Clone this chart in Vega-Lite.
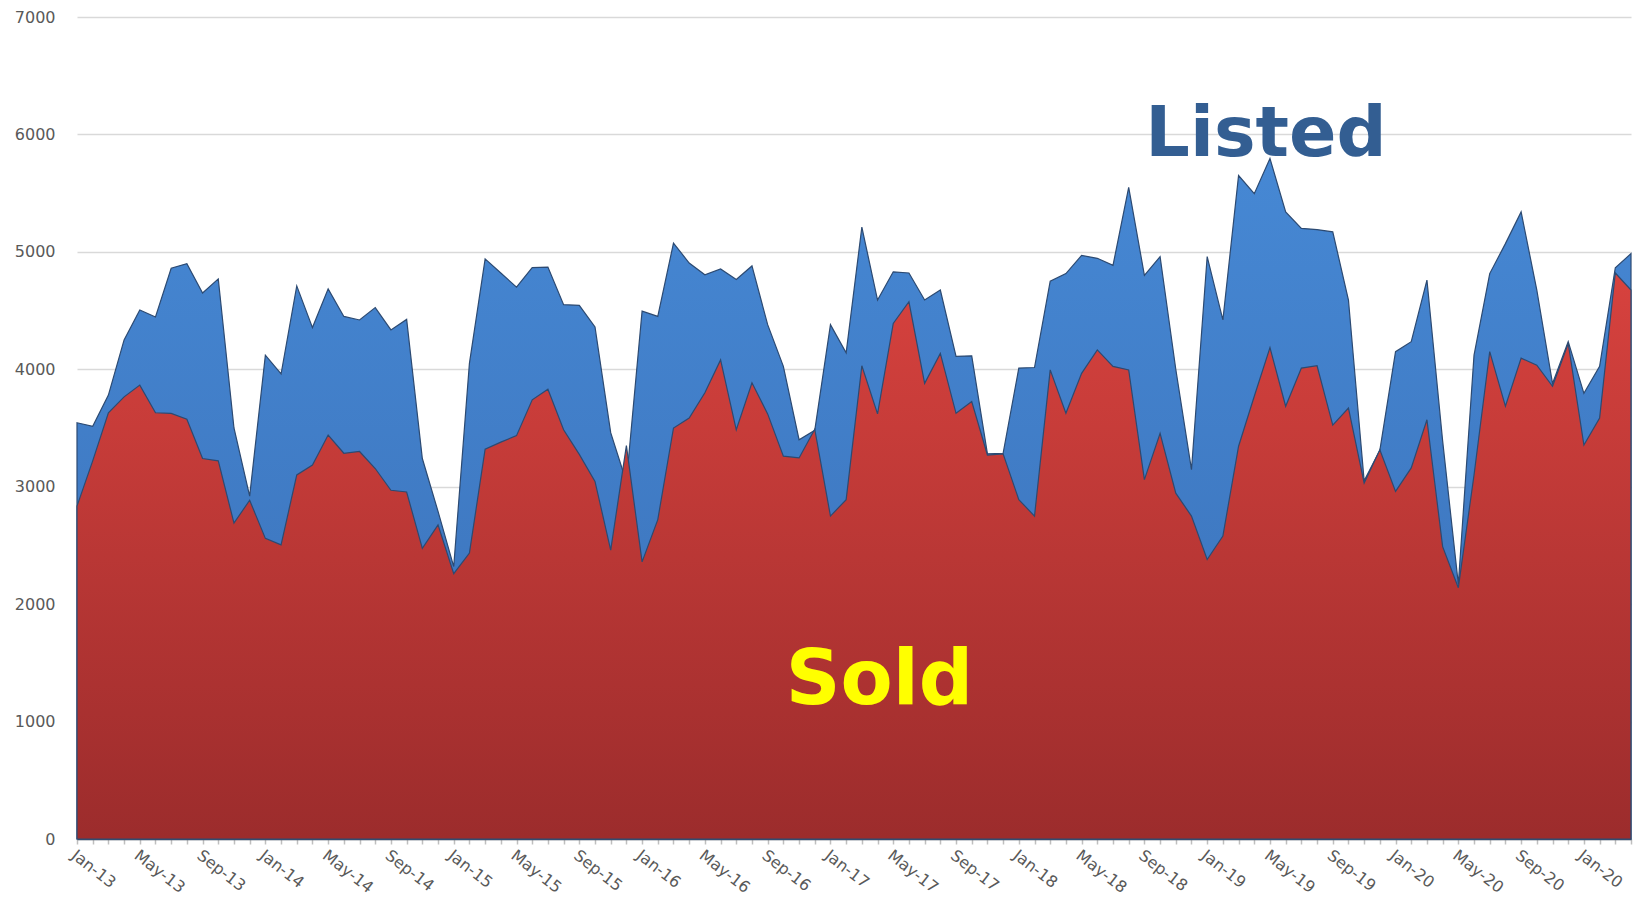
{
  "$schema": "https://vega.github.io/schema/vega-lite/v6.json",
  "width": 1554,
  "height": 822,
  "autosize": "none",
  "padding": {"left": 77, "top": 17, "right": 17, "bottom": 61},
  "background": "white",
  "config": {"view": {"stroke": null}, "font": "DejaVu Sans"},
  "data": {"values": [
    {"date": "2013-01", "Listed": 3545, "Sold": 2835},
    {"date": "2013-02", "Listed": 3515, "Sold": 3220},
    {"date": "2013-03", "Listed": 3780, "Sold": 3630},
    {"date": "2013-04", "Listed": 4250, "Sold": 3765},
    {"date": "2013-05", "Listed": 4505, "Sold": 3865},
    {"date": "2013-06", "Listed": 4445, "Sold": 3630},
    {"date": "2013-07", "Listed": 4860, "Sold": 3625},
    {"date": "2013-08", "Listed": 4900, "Sold": 3575},
    {"date": "2013-09", "Listed": 4650, "Sold": 3240},
    {"date": "2013-10", "Listed": 4770, "Sold": 3220},
    {"date": "2013-11", "Listed": 3500, "Sold": 2690},
    {"date": "2013-12", "Listed": 2920, "Sold": 2885},
    {"date": "2014-01", "Listed": 4120, "Sold": 2560},
    {"date": "2014-02", "Listed": 3960, "Sold": 2505},
    {"date": "2014-03", "Listed": 4710, "Sold": 3100},
    {"date": "2014-04", "Listed": 4355, "Sold": 3185},
    {"date": "2014-05", "Listed": 4685, "Sold": 3440},
    {"date": "2014-06", "Listed": 4450, "Sold": 3285},
    {"date": "2014-07", "Listed": 4420, "Sold": 3300},
    {"date": "2014-08", "Listed": 4525, "Sold": 3155},
    {"date": "2014-09", "Listed": 4335, "Sold": 2970},
    {"date": "2014-10", "Listed": 4425, "Sold": 2955},
    {"date": "2014-11", "Listed": 3240, "Sold": 2475},
    {"date": "2014-12", "Listed": 2790, "Sold": 2675},
    {"date": "2015-01", "Listed": 2320, "Sold": 2260},
    {"date": "2015-02", "Listed": 4050, "Sold": 2435},
    {"date": "2015-03", "Listed": 4940, "Sold": 3320},
    {"date": "2015-04", "Listed": 4820, "Sold": 3380},
    {"date": "2015-05", "Listed": 4700, "Sold": 3435},
    {"date": "2015-06", "Listed": 4865, "Sold": 3740},
    {"date": "2015-07", "Listed": 4870, "Sold": 3830},
    {"date": "2015-08", "Listed": 4550, "Sold": 3485},
    {"date": "2015-09", "Listed": 4545, "Sold": 3275},
    {"date": "2015-10", "Listed": 4360, "Sold": 3045},
    {"date": "2015-11", "Listed": 3460, "Sold": 2460},
    {"date": "2015-12", "Listed": 3040, "Sold": 3350},
    {"date": "2016-01", "Listed": 4495, "Sold": 2360},
    {"date": "2016-02", "Listed": 4450, "Sold": 2720},
    {"date": "2016-03", "Listed": 5075, "Sold": 3500},
    {"date": "2016-04", "Listed": 4905, "Sold": 3585},
    {"date": "2016-05", "Listed": 4805, "Sold": 3800},
    {"date": "2016-06", "Listed": 4855, "Sold": 4080},
    {"date": "2016-07", "Listed": 4765, "Sold": 3485},
    {"date": "2016-08", "Listed": 4880, "Sold": 3885},
    {"date": "2016-09", "Listed": 4380, "Sold": 3620},
    {"date": "2016-10", "Listed": 4025, "Sold": 3260},
    {"date": "2016-11", "Listed": 3400, "Sold": 3245},
    {"date": "2016-12", "Listed": 3480, "Sold": 3490},
    {"date": "2017-01", "Listed": 4380, "Sold": 2750},
    {"date": "2017-02", "Listed": 4140, "Sold": 2890},
    {"date": "2017-03", "Listed": 5210, "Sold": 4030},
    {"date": "2017-04", "Listed": 4590, "Sold": 3620},
    {"date": "2017-05", "Listed": 4830, "Sold": 4390},
    {"date": "2017-06", "Listed": 4820, "Sold": 4575},
    {"date": "2017-07", "Listed": 4590, "Sold": 3880},
    {"date": "2017-08", "Listed": 4675, "Sold": 4135},
    {"date": "2017-09", "Listed": 4110, "Sold": 3625},
    {"date": "2017-10", "Listed": 4115, "Sold": 3725},
    {"date": "2017-11", "Listed": 3280, "Sold": 3270},
    {"date": "2017-12", "Listed": 3285, "Sold": 3280},
    {"date": "2018-01", "Listed": 4010, "Sold": 2890},
    {"date": "2018-02", "Listed": 4015, "Sold": 2750},
    {"date": "2018-03", "Listed": 4750, "Sold": 3995},
    {"date": "2018-04", "Listed": 4815, "Sold": 3625},
    {"date": "2018-05", "Listed": 4970, "Sold": 3965},
    {"date": "2018-06", "Listed": 4945, "Sold": 4165},
    {"date": "2018-07", "Listed": 4885, "Sold": 4025},
    {"date": "2018-08", "Listed": 5550, "Sold": 3995},
    {"date": "2018-09", "Listed": 4800, "Sold": 3060},
    {"date": "2018-10", "Listed": 4960, "Sold": 3455},
    {"date": "2018-11", "Listed": 4000, "Sold": 2945},
    {"date": "2018-12", "Listed": 3145, "Sold": 2750},
    {"date": "2019-01", "Listed": 4960, "Sold": 2380},
    {"date": "2019-02", "Listed": 4420, "Sold": 2580},
    {"date": "2019-03", "Listed": 5650, "Sold": 3345},
    {"date": "2019-04", "Listed": 5495, "Sold": 3770},
    {"date": "2019-05", "Listed": 5795, "Sold": 4185},
    {"date": "2019-06", "Listed": 5340, "Sold": 3685},
    {"date": "2019-07", "Listed": 5200, "Sold": 4010},
    {"date": "2019-08", "Listed": 5190, "Sold": 4030},
    {"date": "2019-09", "Listed": 5170, "Sold": 3525},
    {"date": "2019-10", "Listed": 4590, "Sold": 3670},
    {"date": "2019-11", "Listed": 3050, "Sold": 3030},
    {"date": "2019-12", "Listed": 3310, "Sold": 3315},
    {"date": "2020-01", "Listed": 4150, "Sold": 2960},
    {"date": "2020-02", "Listed": 4235, "Sold": 3160},
    {"date": "2020-03", "Listed": 4760, "Sold": 3570},
    {"date": "2020-04", "Listed": 3390, "Sold": 2490},
    {"date": "2020-05", "Listed": 2170, "Sold": 2140},
    {"date": "2020-06", "Listed": 4120, "Sold": 3100},
    {"date": "2020-07", "Listed": 4815, "Sold": 4150},
    {"date": "2020-08", "Listed": 5070, "Sold": 3685},
    {"date": "2020-09", "Listed": 5340, "Sold": 4095},
    {"date": "2020-10", "Listed": 4675, "Sold": 4035},
    {"date": "2020-11", "Listed": 3880, "Sold": 3855},
    {"date": "2020-12", "Listed": 4235, "Sold": 4220},
    {"date": "2021-01", "Listed": 3795, "Sold": 3355},
    {"date": "2021-02", "Listed": 4025, "Sold": 3585},
    {"date": "2021-03", "Listed": 4865, "Sold": 4820},
    {"date": "2021-04", "Listed": 4985, "Sold": 4675}
  ]},
  "encoding": {
    "x": {
      "field": "date",
      "type": "ordinal",
      "sort": null,
      "scale": {"type": "point", "padding": 0},
      "axis": {
        "title": null,
        "grid": false,
        "labelExpr": "datum.value == '2021-01' ? 'Jan-20' : (toNumber(substring(datum.value, 5, 7)) % 4 == 1 ? utcFormat(toDate(datum.value + '-01'), '%b-%y') : '')",
        "labelOverlap": false,
        "labelAngle": 38,
        "labelAlign": "left",
        "labelBaseline": "middle",
        "labelPadding": 9,
        "labelOffset": -4,
        "labelColor": "#595959",
        "labelFontSize": 16,
        "ticks": true,
        "tickColor": "#bfbfbf",
        "tickSize": 5,
        "tickWidth": 1.5,
        "domainColor": "#44546a",
        "domainWidth": 1.5
      }
    }
  },
  "layer": [
    {
      "mark": {
        "type": "area",
        "color": {"gradient": "linear", "x1": 0, "y1": 0, "x2": 0, "y2": 1,
          "stops": [{"offset": 0, "color": "#4688d4"}, {"offset": 1, "color": "#3a6fb6"}]},
        "stroke": "#2c4a72",
        "strokeWidth": 1.2,
        "fillOpacity": 1
      },
      "encoding": {
        "y": {
          "field": "Listed",
          "type": "quantitative",
          "scale": {"domain": [0, 7000]},
          "axis": {
            "title": null,
            "format": "d",
            "values": [0, 1000, 2000, 3000, 4000, 5000, 6000, 7000],
            "grid": true,
            "gridColor": "#d9d9d9",
            "gridWidth": 1.5,
            "domain": false,
            "ticks": false,
            "labelColor": "#595959",
            "labelFontSize": 16,
            "labelPadding": 22
          }
        }
      }
    },
    {
      "mark": {
        "type": "area",
        "color": {"gradient": "linear", "x1": 0, "y1": 0, "x2": 0, "y2": 1,
          "stops": [{"offset": 0, "color": "#d7423e"}, {"offset": 1, "color": "#9c2c2c"}]},
        "stroke": "#2c4a72",
        "strokeWidth": 1.2,
        "fillOpacity": 1
      },
      "encoding": {
        "y": {"field": "Sold", "type": "quantitative", "axis": {"title": null}}
      }
    },
    {
      "data": {"values": [{"label": "Listed"}]},
      "mark": {"type": "text", "font": "DejaVu Sans", "fontWeight": "bold", "fontSize": 70, "color": "#335e92", "align": "center", "baseline": "alphabetic", "dx": -4, "dy": 4},
      "encoding": {
        "x": {"datum": "2019-05"},
        "y": {"datum": 5850},
        "text": {"field": "label"}
      }
    },
    {
      "data": {"values": [{"label": "Sold"}]},
      "mark": {"type": "text", "font": "DejaVu Sans", "fontWeight": "bold", "fontSize": 76, "color": "#ffff00", "align": "center", "baseline": "alphabetic", "dx": 2},
      "encoding": {
        "x": {"datum": "2017-04"},
        "y": {"datum": 1147},
        "text": {"field": "label"}
      }
    }
  ]
}
